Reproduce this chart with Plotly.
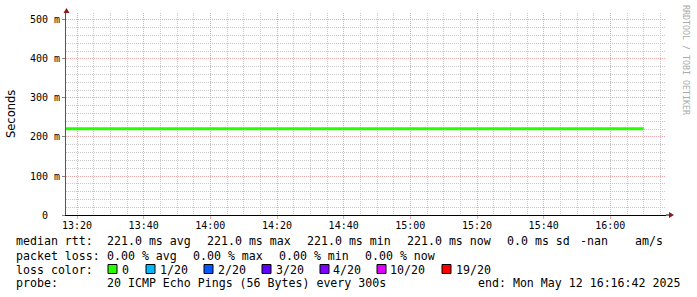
import plotly.graph_objects as go

W, H = 697, 297
L, R, T, B = 66, 666, 13, 215  # plot area pixels

# ---- data ----
times = [
    "2025-05-12 13:15:00", "2025-05-12 13:20:00", "2025-05-12 13:25:00", "2025-05-12 13:30:00",
    "2025-05-12 13:35:00", "2025-05-12 13:40:00", "2025-05-12 13:45:00", "2025-05-12 13:50:00",
    "2025-05-12 13:55:00", "2025-05-12 14:00:00", "2025-05-12 14:05:00", "2025-05-12 14:10:00",
    "2025-05-12 14:15:00", "2025-05-12 14:20:00", "2025-05-12 14:25:00", "2025-05-12 14:30:00",
    "2025-05-12 14:35:00", "2025-05-12 14:40:00", "2025-05-12 14:45:00", "2025-05-12 14:50:00",
    "2025-05-12 14:55:00", "2025-05-12 15:00:00", "2025-05-12 15:05:00", "2025-05-12 15:10:00",
    "2025-05-12 15:15:00", "2025-05-12 15:20:00", "2025-05-12 15:25:00", "2025-05-12 15:30:00",
    "2025-05-12 15:35:00", "2025-05-12 15:40:00", "2025-05-12 15:45:00", "2025-05-12 15:50:00",
    "2025-05-12 15:55:00", "2025-05-12 16:00:00", "2025-05-12 16:05:00", "2025-05-12 16:10:00",
]
median_rtt = [
    0.221, 0.221, 0.221, 0.221, 0.221, 0.221, 0.221, 0.221, 0.221,
    0.221, 0.221, 0.221, 0.221, 0.221, 0.221, 0.221, 0.221, 0.221,
    0.221, 0.221, 0.221, 0.221, 0.221, 0.221, 0.221, 0.221, 0.221,
    0.221, 0.221, 0.221, 0.221, 0.221, 0.221, 0.221, 0.221, 0.221,
]
x_start = "2025-05-12 13:16:42"
x_end = "2025-05-12 16:16:42"
y_tickvals = [0, 0.1, 0.2, 0.3, 0.4, 0.5]
y_ticktext = ["0\u00a0\u00a0", "100 m", "200 m", "300 m", "400 m", "500 m"]
y_max = 0.5179

loss_labels = ["0", "1/20", "2/20", "3/20", "4/20", "10/20", "19/20"]
loss_colors = ["#26ff00", "#00b8ff", "#0059ff", "#5e00ff", "#7e00ff", "#dd00ff", "#ff0000"]
loss_box_px = [108, 146, 204, 262, 320, 377, 442]
loss_text_px = [122, 160, 218, 276, 333, 390, 456]

rtt_segments = ["median rtt:", "221.0 ms avg", "221.0 ms max", "221.0 ms min",
                "221.0 ms now", "0.0 ms sd", "-nan", "am/s"]
rtt_seg_px = [16, 107, 207, 307, 407, 507, 580, 635]
loss_segments = ["packet loss:", "0.00 % avg", "0.00 % max", "0.00 % min", "0.00 % now"]
loss_seg_px = [16, 107, 193, 279, 365]
probe_segments = ["probe:", "20 ICMP Echo Pings (56 Bytes) every 300s", "end: Mon May 12 16:16:42 2025"]
probe_seg_px = [16, 107, 478]

MONO = "DejaVu Sans Mono"
PAD = 2  # annotation inner padding in px


def px(xp):
    return (xp - L) / (R - L)


def py(yp):
    return (B - yp) / (B - T)


def nb(s):
    return s.replace(" ", "\u00a0")


fig = go.Figure()
fig.add_trace(go.Scatter(
    x=times, y=median_rtt, mode="lines",
    line=dict(color="#26ff00", width=3, shape="hv"),
    hoverinfo="skip", showlegend=False,
))

grid_major_red = "#e9a9a9"
grid_minor = "#c8c8c8"

fig.update_layout(
    width=W, height=H,
    margin=dict(l=L, r=W - R, t=T, b=H - B, pad=0),
    paper_bgcolor="white", plot_bgcolor="white",
    showlegend=False,
    font=dict(family=MONO, size=10, color="#000"),
    xaxis=dict(
        type="date", range=[x_start, x_end],
        tick0="2025-05-12 13:20:00", dtick=20 * 60 * 1000,
        tickformat="%H:%M",
        showgrid=True, gridcolor=grid_major_red, griddash="1px,1px", gridwidth=1,
        minor=dict(tick0="2025-05-12 13:20:00", dtick=5 * 60 * 1000, showgrid=True,
                   gridcolor=grid_minor, griddash="1px,1px", gridwidth=1),
        showline=True, linecolor="#000", linewidth=1,
        ticks="outside", ticklen=3, tickcolor="#e9a9a9",
        ticklabelstandoff=-2,
        tickfont=dict(family=MONO, size=10, color="#000"),
        zeroline=False, fixedrange=True,
    ),
    yaxis=dict(
        range=[0, y_max],
        tickvals=y_tickvals, ticktext=y_ticktext,
        showgrid=True, gridcolor=grid_major_red, griddash="1px,1px", gridwidth=1,
        minor=dict(tick0=0, dtick=0.02, showgrid=True,
                   gridcolor=grid_minor, griddash="1px,1px", gridwidth=1),
        showline=True, linecolor="#555", linewidth=1,
        ticks="outside", ticklen=3, tickcolor="#888",
        tickfont=dict(family=MONO, size=10, color="#000"),
        zeroline=False, fixedrange=True,
    ),
)

shapes = []
# axis arrows
shapes.append(dict(type="path", xref="paper", yref="paper",
                   path=f"M {px(63.5)} {py(13)} L {px(69.5)} {py(13)} L {px(66.5)} {py(8)} Z",
                   fillcolor="#8b1a1a", line=dict(color="#8b1a1a", width=0)))
shapes.append(dict(type="line", xref="paper", yref="paper",
                   x0=px(666), x1=px(669), y0=py(215), y1=py(215),
                   line=dict(color="#000", width=1)))
shapes.append(dict(type="path", xref="paper", yref="paper",
                   path=f"M {px(669)} {py(212)} L {px(669)} {py(218)} L {px(674)} {py(215)} Z",
                   fillcolor="#8b1a1a", line=dict(color="#8b1a1a", width=0)))
# loss colour boxes
for bx, col in zip(loss_box_px, loss_colors):
    shapes.append(dict(type="rect", xref="paper", yref="paper",
                       x0=px(bx), x1=px(bx + 9), y0=py(273.5), y1=py(264.5),
                       fillcolor=col, line=dict(color="#000", width=1)))
fig.update_layout(shapes=shapes)

ann = []


def text_at(xp, yp, s, xanchor="left", size=11.6, color="#000", family=MONO, angle=0):
    ann.append(dict(xref="paper", yref="paper", x=px(xp - PAD), y=py(yp), text=nb(s),
                    showarrow=False, xanchor=xanchor, yanchor="middle",
                    textangle=angle, font=dict(family=family, size=size, color=color)))


for xs, s in zip(rtt_seg_px, rtt_segments):
    text_at(xs, 241.5, s)
for xs, s in zip(loss_seg_px, loss_segments):
    text_at(xs, 255.5, s)
text_at(16, 269.5, "loss color:")
for tx, lab in zip(loss_text_px, loss_labels):
    text_at(tx, 269.5, lab)
for xs, s in zip(probe_seg_px, probe_segments):
    text_at(xs, 283, s)

# y axis title
ann.append(dict(xref="paper", yref="paper", x=px(11), y=py(114), text="Seconds",
                showarrow=False, xanchor="center", yanchor="middle", textangle=-90,
                font=dict(family="DejaVu Sans", size=11.5, color="#000")))
# watermark
ann.append(dict(xref="paper", yref="paper", x=px(686), y=py(60), text=nb("RRDTOOL / TOBI OETIKER"),
                showarrow=False, xanchor="center", yanchor="middle", textangle=90,
                font=dict(family=MONO, size=8.3, color="#aaaaaa")))
fig.update_layout(annotations=ann)

fig.write_html("out.html")
